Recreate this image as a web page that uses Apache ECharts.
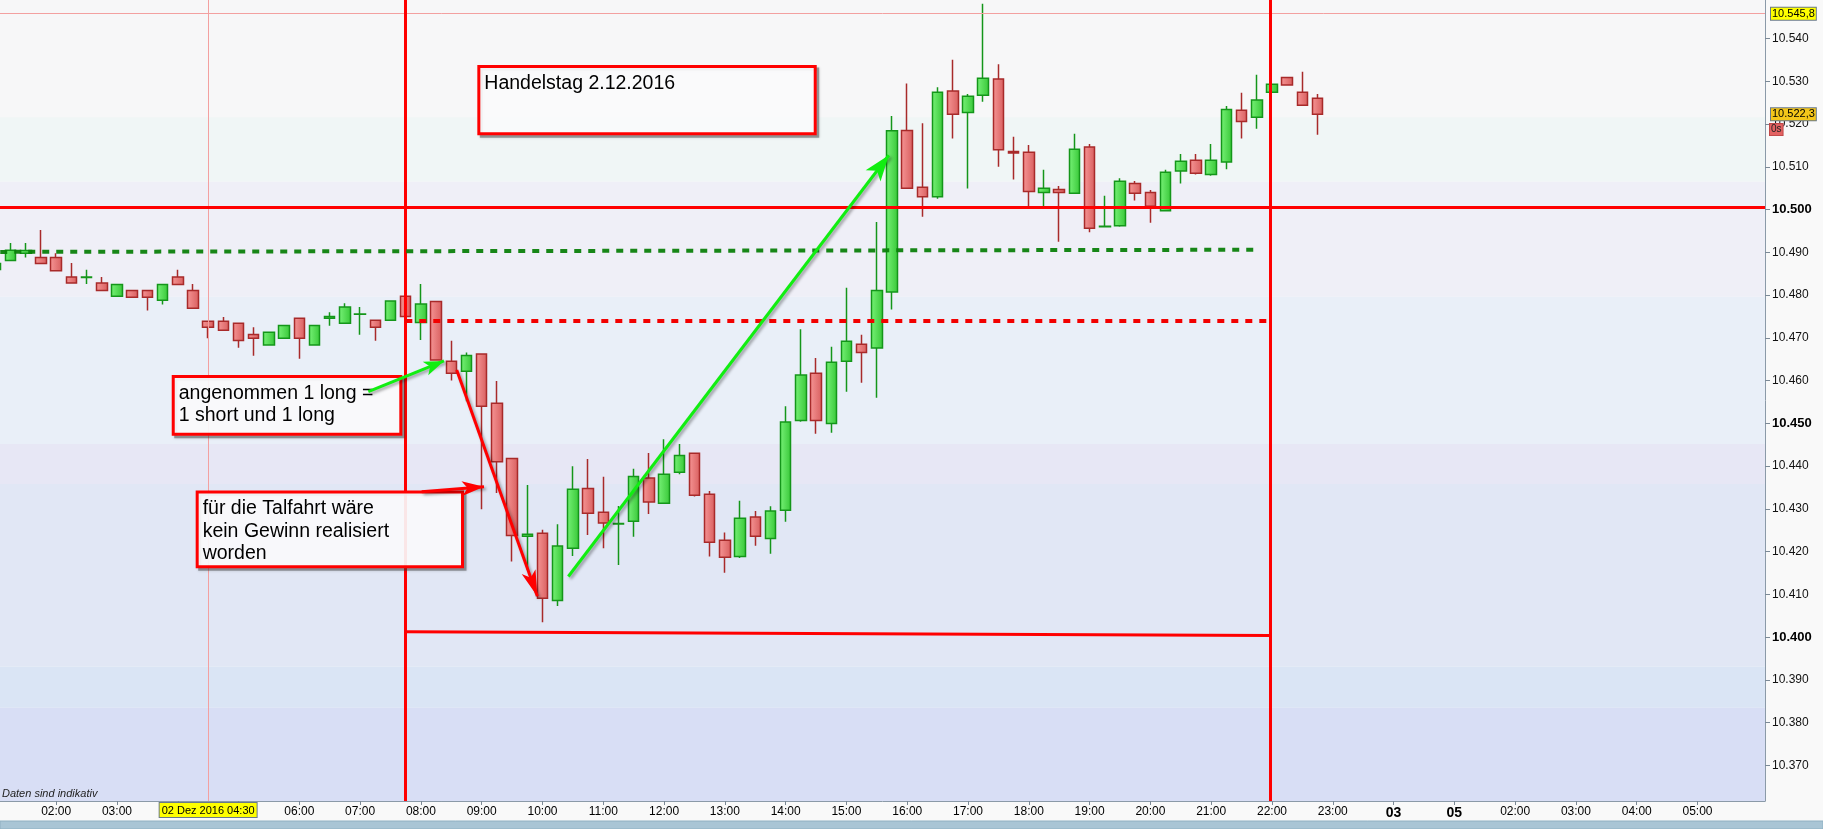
<!DOCTYPE html>
<html>
<head>
<meta charset="utf-8">
<script src="https://cdn.jsdelivr.net/npm/echarts@6/dist/echarts.min.js"></script>
<style>
html,body{margin:0;padding:0;background:#f9f9f9;}
#c{width:1823px;height:829px;}
</style>
</head>
<body>
<div id="c"></div>
<script>
// ---------- DATA (15-minute candles, 02.12.2016) ----------
const times = ['01:00','01:15','01:30','01:45','02:00','02:15','02:30','02:45','03:00','03:15','03:30','03:45',
'04:00','04:15','04:30','04:45','05:00','05:15','05:30','05:45','06:00','06:15','06:30','06:45',
'07:00','07:15','07:30','07:45','08:00','08:15','08:30','08:45','09:00','09:15','09:30','09:45',
'10:00','10:15','10:30','10:45','11:00','11:15','11:30','11:45','12:00','12:15','12:30','12:45',
'13:00','13:15','13:30','13:45','14:00','14:15','14:30','14:45','15:00','15:15','15:30','15:45',
'16:00','16:15','16:30','16:45','17:00','17:15','17:30','17:45','18:00','18:15','18:30','18:45',
'19:00','19:15','19:30','19:45','20:00','20:15','20:30','20:45','21:00','21:15','21:30','21:45',
'22:00','22:15','22:30','22:45'];

const opens = [10.4860,10.4881,10.4898,10.4888,10.4888,10.4842,10.4841,10.4828,10.4797,10.4811,
10.4811,10.4788,10.4842,10.4811,10.4739,10.4739,10.4734,10.4708,10.4683,10.4699,
10.4746,10.4683,10.4746,10.4734,10.4755,10.4741,10.4741,10.4797,10.4736,10.4785,
10.4645,10.4622,10.4662,10.4547,10.4418,10.4236,10.4243,10.4086,10.4208,10.4348,
10.4292,10.4265,10.4271,10.4372,10.4313,10.4386,10.4430,10.4334,10.4227,10.4189,
10.4281,10.4231,10.4297,10.4507,10.4617,10.4500,10.4645,10.4685,10.4676,10.4807,
10.5185,10.5052,10.5030,10.5277,10.5227,10.5267,10.5305,10.5136,10.5134,10.5040,
10.5047,10.5038,10.5146,10.4960,10.4962,10.5061,10.5040,10.4997,10.5090,10.5115,
10.5082,10.5111,10.5232,10.5216,10.5274,10.5309,10.5274,10.5260];

const closes = [10.4874,10.4905,10.4904,10.4874,10.4857,10.4828,10.4842,10.4811,10.4825,10.4795,
10.4795,10.4825,10.4825,10.4769,10.4725,10.4718,10.4694,10.4699,10.4713,10.4729,
10.4699,10.4729,10.4750,10.4772,10.4756,10.4725,10.4786,10.4750,10.4779,10.4648,
10.4617,10.4659,10.4540,10.4410,10.4238,10.4241,10.4091,10.4213,10.4346,10.4290,
10.4267,10.4266,10.4376,10.4316,10.4381,10.4425,10.4332,10.4222,10.4187,10.4278,
10.4236,10.4295,10.4503,10.4613,10.4507,10.4643,10.4692,10.4666,10.4811,10.5184,
10.5050,10.5030,10.5274,10.5223,10.5265,10.5307,10.5140,10.5132,10.5042,10.5050,
10.5040,10.5141,10.4956,10.4961,10.5066,10.5038,10.5008,10.5087,10.5113,10.5085,
10.5115,10.5234,10.5206,10.5256,10.5293,10.5291,10.5244,10.5223];

const lows = [10.4860,10.4881,10.4888,10.4874,10.4857,10.4828,10.4826,10.4811,10.4797,10.4795,
10.4764,10.4778,10.4825,10.4769,10.4699,10.4718,10.4677,10.4658,10.4683,10.4699,
10.4651,10.4683,10.4728,10.4734,10.4707,10.4693,10.4741,10.4750,10.4695,10.4648,
10.4600,10.4552,10.4299,10.4337,10.4177,10.4157,10.4035,10.4073,10.4190,10.4239,
10.4208,10.4169,10.4235,10.4288,10.4313,10.4381,10.4329,10.4189,10.4151,10.4185,
10.4214,10.4195,10.4270,10.4504,10.4476,10.4478,10.4574,10.4595,10.4560,10.4766,
10.5050,10.4983,10.5025,10.5166,10.5049,10.5252,10.5100,10.5070,10.5007,10.5007,
10.4925,10.5038,10.4947,10.4959,10.4960,10.5021,10.4969,10.4997,10.5061,10.5082,
10.5079,10.5094,10.5166,10.5189,10.5274,10.5291,10.5244,10.5175];

const highs = [10.4874,10.4922,10.4922,10.4952,10.4898,10.4875,10.4859,10.4842,10.4825,10.4811,
10.4811,10.4825,10.4859,10.4826,10.4739,10.4749,10.4734,10.4725,10.4713,10.4729,
10.4746,10.4729,10.4760,10.4781,10.4772,10.4741,10.4786,10.4797,10.4826,10.4785,
10.4693,10.4666,10.4662,10.4599,10.4418,10.4356,10.4251,10.4264,10.4400,10.4417,
10.4375,10.4307,10.4394,10.4431,10.4463,10.4452,10.4432,10.4342,10.4245,10.4319,
10.4295,10.4306,10.4540,10.4720,10.4653,10.4679,10.4817,10.4707,10.4971,10.5219,
10.5295,10.5202,10.5286,10.5350,10.5270,10.5481,10.5340,10.5170,10.5151,10.5093,
10.5055,10.5177,10.5153,10.5032,10.5073,10.5067,10.5046,10.5093,10.5130,10.5130,
10.5153,10.5242,10.5273,10.5315,10.5293,10.5309,10.5322,10.5270];

const yTickValues = [10.37,10.38,10.39,10.40,10.41,10.42,10.43,10.44,10.45,10.46,10.47,10.48,10.49,10.50,10.51,10.52,10.53,10.54];
const xTickHours = [2,3,4,5,6,7,8,9,10,11,12,13,14,15,16,17,18,19,20,21,22,23,24,25,26,27,28,29];
const xTickLabels = ['02:00','03:00','','','06:00','07:00','08:00','09:00','10:00','11:00','12:00','13:00','14:00','15:00',
'16:00','17:00','18:00','19:00','20:00','21:00','22:00','23:00','03','05','02:00','03:00','04:00','05:00'];

// price levels / annotations (data coordinates: [hour, price])
const dayHigh = 10.5458;
const lastPrice = 10.5223;
const levelLine = 10.5005;
const sessionStart = 7.743;
const sessionEnd = 21.973;
const crossHour = 4.5;

// ---------- CHART ----------
const FONT = '"Liberation Sans", Arial, sans-serif';
const toHours = s => { const p = s.split(':').map(Number); return p[0] + p[1] / 60; };
const candleData = times.map((s, i) => [toHours(s), opens[i], closes[i], lows[i], highs[i]]);

const chart = echarts.init(document.getElementById('c'), null, {renderer: 'canvas', width: 1823, height: 829});

const greenFill = new echarts.graphic.LinearGradient(0, 0, 1, 0, [{offset: 0, color: '#78f278'}, {offset: 1, color: '#37c737'}]);
const redFill = new echarts.graphic.LinearGradient(0, 0, 1, 0, [{offset: 0, color: '#f69696'}, {offset: 1, color: '#d85e5e'}]);

const bandDefs = [
  [10.549, 10.5216, '#f7f7f8'],
  [10.5216, 10.5065, '#f0f6f6'],
  [10.5065, 10.4796, '#efeff7'],
  [10.4796, 10.4452, '#e9eff8'],
  [10.4452, 10.4358, '#e7e7f5'],
  [10.4358, 10.3931, '#e1e7f5'],
  [10.3931, 10.3835, '#dae5f5'],
  [10.3835, 10.3617, '#d8def5']
];

const shadow = {shadowBlur: 3, shadowColor: 'rgba(0,0,0,0.35)', shadowOffsetX: 2, shadowOffsetY: 2};
const arrowGreen = Object.assign({color: '#11ee11', width: 3, type: 'solid'}, shadow);
const arrowRed = Object.assign({color: '#ff0000', width: 3, type: 'solid'}, shadow);

const boxLabel = (txt, bg, extra) => Object.assign({
  show: true, position: 'end', formatter: txt, backgroundColor: bg,
  borderColor: '#6a7a8a', borderWidth: 1, padding: [1, 1, 0, 1], color: '#000',
  fontSize: 11, fontFamily: FONT, distance: 6
}, extra || {});

chart.setOption({
  backgroundColor: '#f9f9f9',
  animation: false,
  grid: {left: 0, right: 58, top: 0, bottom: 28, containLabel: false, outerBoundsMode: 'none'},
  xAxis: {
    type: 'value', min: 1.076, max: 30.11, z: 3,
    axisLine: {show: true, onZero: false, lineStyle: {color: '#8b9aa8', width: 1}},
    axisTick: {show: true, customValues: xTickHours, length: 4, lineStyle: {color: '#7b8996'}},
    axisLabel: {
      customValues: xTickHours, margin: 5, color: '#000', fontSize: 12, fontFamily: FONT,
      formatter: v => {
        const i = xTickHours.findIndex(h => Math.abs(h - v) < 1e-6);
        const s = i >= 0 ? xTickLabels[i] : '';
        return s.length === 2 ? '{b|' + s + '}' : s;
      },
      rich: {b: {fontWeight: 'bold', fontSize: 14, fontFamily: FONT, color: '#000'}}
    },
    splitLine: {show: false}
  },
  yAxis: {
    type: 'value', position: 'right', min: 10.3617, max: 10.549, z: 3,
    axisLine: {show: true, onZero: false, lineStyle: {color: '#8b9aa8', width: 1}},
    axisTick: {show: true, customValues: yTickValues, length: 5, lineStyle: {color: '#7b8996'}},
    axisLabel: {
      customValues: yTickValues, margin: 7, color: '#111', fontSize: 12, fontFamily: FONT,
      formatter: v => {
        const s = v.toFixed(3);
        return Math.round(v * 1000) % 50 === 0 ? '{b|' + s + '}' : s;
      },
      rich: {b: {fontWeight: 'bold', fontSize: 13, fontFamily: FONT, color: '#000'}}
    },
    splitLine: {show: false}
  },
  series: [
    {
      type: 'candlestick',
      data: candleData,
      encode: {x: 0, y: [1, 2, 3, 4]},
      barWidth: 11,
      itemStyle: {color: greenFill, color0: redFill, borderColor: '#14961a', borderColor0: '#a82a2a', borderWidth: 1.5},
      markArea: {
        silent: true, z: 1,
        data: bandDefs.map(b => [{yAxis: b[0], itemStyle: {color: b[2]}}, {yAxis: b[1]}])
      },
      markLine: {
        silent: true, symbol: ['none', 'none'], z: 5, precision: 4,
        label: {show: false},
        data: [
          {yAxis: dayHigh, lineStyle: {color: '#f3a0a0', width: 1, type: 'solid'}, label: boxLabel('10.545,8', '#ffff00')},
          {yAxis: lastPrice, lineStyle: {color: 'rgba(0,0,0,0)', width: 1}, label: boxLabel('10.522,3', '#f4c61a')},
          {yAxis: 10.5187, lineStyle: {color: 'rgba(0,0,0,0)', width: 1},
            label: boxLabel('0s', '#e36262', {borderColor: '#c04848', fontSize: 10, padding: [1, 1, 0, 1], distance: 5, color: '#222'})},
          {xAxis: crossHour, lineStyle: {color: '#f3a0a0', width: 1, type: 'solid'},
            label: {show: true, position: 'start', formatter: '02 Dez 2016 04:30', backgroundColor: '#ffff00',
              borderColor: '#6a7a8a', borderWidth: 1, padding: [2, 2, 1, 2], color: '#000', fontSize: 11, fontFamily: FONT, distance: 2}},
          {yAxis: levelLine, lineStyle: {color: '#ff0000', width: 3, type: 'solid'}},
          {xAxis: sessionStart, lineStyle: {color: '#ff0000', width: 3, type: 'solid'}},
          {xAxis: sessionEnd, lineStyle: {color: '#ff0000', width: 3, type: 'solid'}},
          [{coord: [sessionStart, 10.4013], lineStyle: {color: '#ff0000', width: 3, type: 'solid'}}, {coord: [sessionEnd, 10.4004]}],
          [{coord: [1.08, 10.4901], lineStyle: {color: '#0b800b', width: 4, type: [7, 7], opacity: 0.95}}, {coord: [21.72, 10.4906]}],
          [{coord: [sessionStart, 10.4740], lineStyle: {color: '#f20000', width: 4, type: [7, 7]}}, {coord: [21.93, 10.4740]}]
        ]
      }
    },
    {
      type: 'line', data: [], silent: true,
      markLine: {
        silent: true, z: 200, symbol: ['none', 'none'], label: {show: false}, precision: 4,
        data: [
          [{coord: [7.135, 10.4574], symbol: 'none', lineStyle: arrowGreen}, {coord: [8.380, 10.4646], symbol: 'arrow', symbolSize: [11, 20]}],
          [{coord: [8.589, 10.4625], symbol: 'none', lineStyle: arrowRed}, {coord: [9.915, 10.4096], symbol: 'arrow', symbolSize: [11, 26]}],
          [{coord: [8.013, 10.4340], symbol: 'none', lineStyle: arrowRed}, {coord: [9.038, 10.4352], symbol: 'arrow', symbolSize: [11, 22]}],
          [{coord: [10.425, 10.4142], symbol: 'none', lineStyle: arrowGreen}, {coord: [15.697, 10.5127], symbol: 'arrow', symbolSize: [14, 26]}]
        ]
      }
    }
  ]
});

// ---------- text annotations (anchored in data coordinates) ----------
const annotBoxes = [
  {lines: ['Handelstag 2.12.2016'], from: [8.928, 10.5338], to: [14.511, 10.5174]},
  {lines: ['angenommen 1 long =', '1 short und 1 long'], from: [3.901, 10.4613], to: [7.694, 10.4471]},
  {lines: ['für die Talfahrt wäre', 'kein Gewinn realisiert', 'worden'], from: [4.295, 10.4343], to: [8.709, 10.4161]}
];

const graphics = [];
annotBoxes.forEach(b => {
  const a = chart.convertToPixel({gridIndex: 0}, b.from);
  const c = chart.convertToPixel({gridIndex: 0}, b.to);
  const w = c[0] - a[0], h = c[1] - a[1];
  // drop shadow frame
  graphics.push({
    type: 'rect', z: 99, silent: true,
    shape: {x: a[0] + 4, y: a[1] + 4, width: w - 3, height: h - 3},
    style: {fill: 'none', stroke: 'rgba(60,60,60,0.45)', lineWidth: 3, shadowBlur: 3, shadowColor: 'rgba(0,0,0,0.4)'}
  });
  graphics.push({
    type: 'rect', z: 100, silent: true,
    shape: {x: a[0] + 1.5, y: a[1] + 1.5, width: w - 3, height: h - 3},
    style: {fill: 'rgba(250,250,251,0.92)', stroke: '#ff0000', lineWidth: 3}
  });
  graphics.push({
    type: 'text', z: 101, silent: true,
    style: {x: a[0] + 7, y: a[1] + 7, text: b.lines.join('\n'), fill: '#000',
      font: '19.5px ' + FONT, lineHeight: 22.5, textVerticalAlign: 'top'}
  });
});
graphics.push({
  type: 'text', z: 50, silent: true,
  style: {x: 2, y: 788, text: 'Daten sind indikativ', fill: '#222', font: 'italic 11px ' + FONT}
});
graphics.push({
  type: 'rect', z: 50, silent: true,
  shape: {x: 0, y: 821, width: 1823, height: 8},
  style: {fill: '#a9c5d5', stroke: '#8fb0c2', lineWidth: 1}
});
chart.setOption({graphic: graphics});
</script>
</body>
</html>
